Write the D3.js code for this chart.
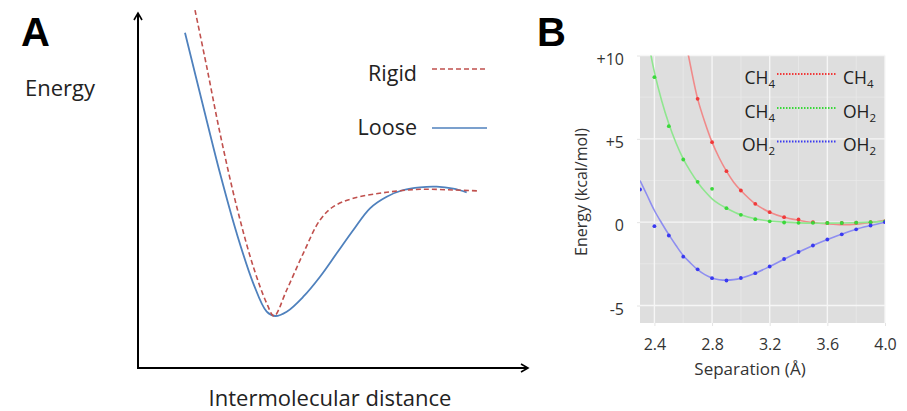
<!DOCTYPE html>
<html><head><meta charset="utf-8">
<script src="https://cdn.jsdelivr.net/npm/d3@7"></script>
<style>body{margin:0;background:#fff}svg{display:block}</style>
</head><body>
<svg id="c" width="907" height="411"></svg>
<script>
// ---------- Panel A data (schematic, arbitrary units) ----------
const looseX = [1.205,1.674,2.103,2.531,2.956,3.3,3.513,3.813,4.238,4.667,5.095,5.521,5.949,6.377,6.803,7.231,7.659,8.085,8.428];
const looseY = [9.445,7.36,5.485,3.794,2.386,1.586,1.465,1.586,2.008,2.572,3.231,3.887,4.499,4.825,5.014,5.09,5.107,5.051,4.949];
const rigidX = [1.462,1.762,2.103,2.531,2.956,3.3,3.487,3.813,4.238,4.667,5.008,5.521,6.377,7.231,8.085,8.769];
const rigidY = [10.08,8.487,6.611,4.544,2.854,1.823,1.465,2.197,3.231,4.169,4.544,4.78,4.949,5.034,5.014,4.986];
const legendA = ["Rigid","Loose"];

// ---------- Panel B data ----------
const sepTicks = [2.4,2.8,3.2,3.6,4.0];
const sepTickLabels = ["2.4","2.8","3.2","3.6","4.0"];
const energyTicks = [10,5,0,-5];
const energyTickLabels = ["+10","+5","0","-5"];
// measured points
const ptsBlueX = [2.3,2.4,2.5,2.6,2.7,2.8,2.9,3.0,3.1,3.2,3.3,3.4,3.5,3.6,3.7,3.8,3.9,4.0];
const ptsBlueY = [1.96,-0.24,-0.8,-2.07,-2.83,-3.36,-3.5,-3.35,-3.06,-2.66,-2.21,-1.79,-1.4,-1.04,-0.73,-0.43,-0.2,0.0];
const ptsGreenX = [2.4,2.5,2.6,2.7,2.8,2.9,3.0,3.1,3.2,3.3,3.4,3.5,3.6,3.7,3.8,3.9,4.0];
const ptsGreenY = [8.7,5.76,3.76,2.42,2.0,0.84,0.44,0.18,0.05,-0.02,-0.04,-0.04,-0.05,-0.05,-0.03,0.0,0.05];
const ptsRedX = [2.7,2.8,2.9,3.0,3.1,3.2,3.3,3.4,3.5,3.6,3.7,3.8,3.9,4.0];
const ptsRedY = [7.4,4.8,3.06,1.9,1.1,0.6,0.3,0.16,0.0,-0.05,-0.05,-0.03,0.0,0.05];
// fitted curves
const fitRedX = [2.6,2.65,2.7,2.75,2.8,2.85,2.9,2.95,3.0,3.1,3.2,3.3,3.4,3.5,3.6,3.7,3.8,3.9,4.0];
const fitRedY = [11.6,9.4,7.4,6.0,4.8,3.85,3.06,2.4,1.9,1.1,0.6,0.3,0.12,-0.02,-0.1,-0.15,-0.12,-0.02,0.12];
const fitGreenX = [2.35,2.4,2.45,2.5,2.55,2.6,2.65,2.7,2.75,2.8,2.85,2.9,3.0,3.1,3.2,3.3,3.4,3.5,3.6,3.7,3.8,3.9,4.0];
const fitGreenY = [11.2,9.0,7.3,5.9,4.75,3.8,3.05,2.4,1.85,1.4,1.08,0.84,0.44,0.2,0.07,0.0,-0.04,-0.06,-0.06,-0.05,-0.03,0.0,0.05];
const fitBlueX = [2.3,2.35,2.4,2.45,2.5,2.55,2.6,2.65,2.7,2.75,2.8,2.85,2.9,2.95,3.0,3.1,3.2,3.3,3.4,3.5,3.6,3.7,3.8,3.9,4.0];
const fitBlueY = [2.5,1.6,0.7,-0.05,-0.75,-1.4,-2.0,-2.45,-2.85,-3.15,-3.35,-3.45,-3.48,-3.45,-3.36,-3.06,-2.66,-2.22,-1.8,-1.4,-1.04,-0.72,-0.42,-0.2,0.0];
const legendLeft = [["CH","4"],["CH","4"],["OH","2"]];
const legendRight = [["CH","4"],["OH","2"],["OH","2"]];

const FONT = "Open Sans, sans-serif";
const svg = d3.select("#c");
const zip = (xs, ys) => xs.map((x,i)=>[x, ys[i]]);

// ================= Panel A =================
const ax = d3.scaleLinear().domain([0,10]).range([138,528]);
const ay = d3.scaleLinear().domain([0,10]).range([368,13]);
const gA = svg.append("g");
gA.append("text").attr("x",21).attr("y",46).text("A")
  .attr("font-family","Liberation Sans, Arial").attr("font-weight","bold").attr("font-size",40);
gA.append("line").attr("x1",ax(0)).attr("x2",ax(0)).attr("y1",ay(0)).attr("y2",ay(10)+1)
  .attr("stroke","#000").attr("stroke-width",2);
gA.append("line").attr("x1",ax(0)-1).attr("x2",ax(10)-1).attr("y1",ay(0)).attr("y2",ay(0))
  .attr("stroke","#000").attr("stroke-width",2);
gA.append("path").attr("d",`M${ax(0)-4},${ay(10)+7}L${ax(0)},${ay(10)}L${ax(0)+4},${ay(10)+7}`)
  .attr("fill","none").attr("stroke","#000").attr("stroke-width",1.6);
gA.append("path").attr("d",`M${ax(10)-7},${ay(0)-4}L${ax(10)},${ay(0)}L${ax(10)-7},${ay(0)+4}`)
  .attr("fill","none").attr("stroke","#000").attr("stroke-width",1.6);
gA.append("text").attr("x",25).attr("y",96).text("Energy")
  .attr("font-family",FONT).attr("font-size",22).attr("fill","#222");
gA.append("text").attr("x",330).attr("y",406).attr("text-anchor","middle").text("Intermolecular distance")
  .attr("font-family",FONT).attr("font-size",22).attr("fill","#222");
const lineA = d3.line().x(d=>ax(d[0])).y(d=>ay(d[1])).curve(d3.curveCatmullRom.alpha(0.5));
gA.append("path").attr("d", lineA(zip(looseX, looseY))).attr("fill","none")
  .attr("stroke","#4f81bd").attr("stroke-width",1.8);
gA.append("path").attr("d", lineA(zip(rigidX, rigidY))).attr("fill","none")
  .attr("stroke","#c0504d").attr("stroke-width",1.6).attr("stroke-dasharray","5,3");
const legAy = [69,128];
const legAbase = [81,135];
legendA.forEach((t,i)=>{
  gA.append("text").attr("x",417).attr("y",legAbase[i]).attr("text-anchor","end").text(t)
    .attr("font-family",FONT).attr("font-size",21.5).attr("fill","#222");
  const l = gA.append("line").attr("x1",432).attr("x2",487).attr("y1",legAy[i]).attr("y2",legAy[i])
    .attr("stroke", i===0?"#c0504d":"#4f81bd").attr("stroke-width",1.6);
  if(i===0) l.attr("stroke-dasharray","5,3");
});

// ================= Panel B =================
const bx = d3.scaleLinear().domain([2.3,4.0]).range([640,885]);
const by = d3.scaleLinear().domain([-6.05,10.0]).range([323,55.5]);
const gB = svg.append("g");
gB.append("text").attr("x",537).attr("y",46).text("B")
  .attr("font-family","Liberation Sans, Arial").attr("font-weight","bold").attr("font-size",40);
gB.append("rect").attr("x",bx(2.3)).attr("y",by(10)).attr("width",bx(4.0)-bx(2.3)).attr("height",by(-6.05)-by(10))
  .attr("fill","#dedede");
const minorX = [2.6,3.0,3.4,3.8], minorY = [7.5,2.5,-2.5];
gB.selectAll(".mx").data(minorX).join("line").attr("x1",d=>bx(d)).attr("x2",d=>bx(d))
  .attr("y1",by(10)).attr("y2",by(-6.05)).attr("stroke","#e8e8e8").attr("stroke-width",0.8);
gB.selectAll(".my").data(minorY).join("line").attr("y1",d=>by(d)).attr("y2",d=>by(d))
  .attr("x1",bx(2.3)).attr("x2",bx(4.0)).attr("stroke","#e8e8e8").attr("stroke-width",0.8);
gB.selectAll(".gx").data(sepTicks).join("line").attr("x1",d=>bx(d)).attr("x2",d=>bx(d))
  .attr("y1",by(10)).attr("y2",by(-6.05)).attr("stroke","#f6f6f6").attr("stroke-width",1.4);
gB.selectAll(".gy").data(energyTicks).join("line").attr("y1",d=>by(d)).attr("y2",d=>by(d))
  .attr("x1",bx(2.3)).attr("x2",bx(4.0)).attr("stroke","#f6f6f6").attr("stroke-width",1.4);
const xAxis = d3.axisBottom(bx).tickValues(sepTicks).tickFormat((d,i)=>sepTickLabels[i]).tickSize(3);
const yAxis = d3.axisLeft(by).tickValues(energyTicks).tickFormat((d,i)=>energyTickLabels[i]).tickSize(3);
const gx = gB.append("g").attr("transform",`translate(0,${by(-6.05)})`).call(xAxis);
const gy = gB.append("g").attr("transform",`translate(${bx(2.3)},0)`).call(yAxis);
[gx,gy].forEach(g=>{
  g.select(".domain").remove();
  g.selectAll(".tick line").attr("stroke","#e4e4e4");
  g.selectAll("text").attr("font-family",FONT).attr("font-size",16).attr("fill","#333");
});
gx.selectAll("text").attr("y",27).attr("dy",0);
gy.selectAll("text").attr("x",-16).attr("dy",0).attr("y",8.5);
gB.append("text").attr("x",750).attr("y",375).attr("text-anchor","middle").text("Separation (Å)")
  .attr("font-family",FONT).attr("font-size",17).attr("fill","#333");
gB.append("text").attr("transform","translate(587,192) rotate(-90)").attr("text-anchor","middle")
  .text("Energy (kcal/mol)").attr("font-family",FONT).attr("font-size",16).attr("fill","#333");

svg.append("defs").append("clipPath").attr("id","clipB").append("rect")
  .attr("x",bx(2.3)).attr("y",by(10)).attr("width",bx(4.0)-bx(2.3)).attr("height",by(-6.05)-by(10));
const plot = gB.append("g").attr("clip-path","url(#clipB)");
const lineB = d3.line().x(d=>bx(d[0])).y(d=>by(d[1])).curve(d3.curveCatmullRom.alpha(0.5));
const series = [
  {fx:fitRedX, fy:fitRedY, px:ptsRedX, py:ptsRedY, line:"#f08a8a", pt:"#f03a3a"},
  {fx:fitGreenX, fy:fitGreenY, px:ptsGreenX, py:ptsGreenY, line:"#8fe68f", pt:"#3ad83a"},
  {fx:fitBlueX, fy:fitBlueY, px:ptsBlueX, py:ptsBlueY, line:"#8e8ef0", pt:"#3a3af0"}
];
series.forEach(s=>{
  plot.append("path").attr("d", lineB(zip(s.fx, s.fy))).attr("fill","none")
    .attr("stroke",s.line).attr("stroke-width",1.6);
});
series.forEach(s=>{
  plot.selectAll(null).data(zip(s.px, s.py)).join("circle")
    .attr("cx",d=>bx(d[0])).attr("cy",d=>by(d[1])).attr("r",1.9).attr("fill",s.pt);
});
const legBy = [74,108,141.5];
const legCol = ["#f03a3a","#3ad83a","#3a3af0"];
function chem(x, y, anchor, parts){
  const t = gB.append("text").attr("x",x).attr("y",y).attr("text-anchor",anchor)
    .attr("font-family",FONT).attr("font-size",17.5).attr("fill","#222");
  t.append("tspan").text(parts[0]);
  t.append("tspan").text(parts[1]).attr("font-size",11.5).attr("dy",4);
}
legBy.forEach((y,i)=>{
  chem(775, y+9.5, "end", legendLeft[i]);
  gB.append("line").attr("x1",777).attr("x2",837).attr("y1",y).attr("y2",y)
    .attr("stroke",legCol[i]).attr("stroke-width",2).attr("stroke-dasharray","1.5,1.5");
  chem(843, y+9.5, "start", legendRight[i]);
});
</script>
</body></html>
